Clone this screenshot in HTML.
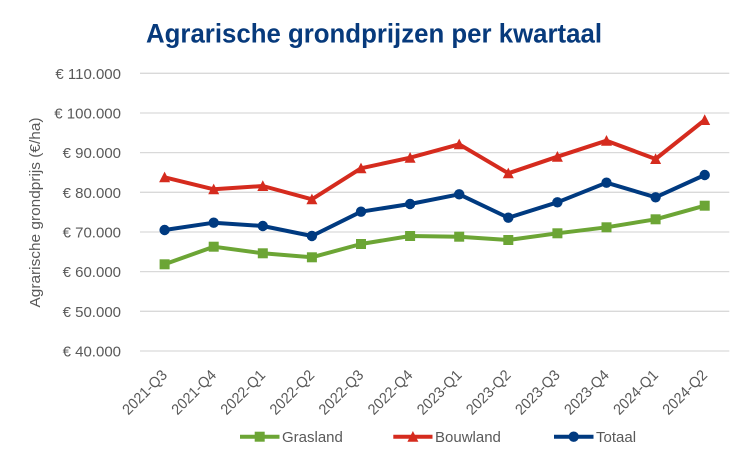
<!DOCTYPE html>
<html>
<head>
<meta charset="utf-8">
<style>
  html,body{margin:0;padding:0;background:#fff;}
  svg{display:block;}
  text{font-family:"Liberation Sans",sans-serif;}
</style>
</head>
<body>
<svg width="750" height="474" viewBox="0 0 750 474" xmlns="http://www.w3.org/2000/svg">
  <rect width="750" height="474" fill="#ffffff"/>
  <!-- Title -->
  <text x="146" y="42.3" font-size="27" font-weight="bold" fill="#073a7c" textLength="456" lengthAdjust="spacingAndGlyphs">Agrarische grondprijzen per kwartaal</text>

  <!-- Gridlines -->
  <g stroke="#d9d9d9" stroke-width="1.3">
    <line x1="140" y1="73.3" x2="729.3" y2="73.3"/>
    <line x1="140" y1="113" x2="729.3" y2="113"/>
    <line x1="140" y1="152.6" x2="729.3" y2="152.6"/>
    <line x1="140" y1="192.3" x2="729.3" y2="192.3"/>
    <line x1="140" y1="232" x2="729.3" y2="232"/>
    <line x1="140" y1="271.6" x2="729.3" y2="271.6"/>
    <line x1="140" y1="311.3" x2="729.3" y2="311.3"/>
    <line x1="140" y1="351" x2="729.3" y2="351"/>
  </g>

  <!-- Y tick labels -->
  <g font-size="15" fill="#595959" text-anchor="end">
    <text x="121" y="78.8">€ 110.000</text>
    <text x="121" y="118.5">€ 100.000</text>
    <text x="121" y="158.1">€ 90.000</text>
    <text x="121" y="197.8">€ 80.000</text>
    <text x="121" y="237.5">€ 70.000</text>
    <text x="121" y="277.1">€ 60.000</text>
    <text x="121" y="316.8">€ 50.000</text>
    <text x="121" y="356.5">€ 40.000</text>
  </g>

  <!-- Y axis title -->
  <text transform="translate(40,212.5) rotate(-90)" font-size="15" fill="#595959" text-anchor="middle" textLength="190" lengthAdjust="spacingAndGlyphs">Agrarische grondprijs (€/ha)</text>

  <!-- X tick labels -->
  <g font-size="15" fill="#595959" text-anchor="end">
    <text transform="translate(168,376) rotate(-45)" textLength="56" lengthAdjust="spacingAndGlyphs">2021-Q3</text>
    <text transform="translate(217.1,376) rotate(-45)" textLength="56" lengthAdjust="spacingAndGlyphs">2021-Q4</text>
    <text transform="translate(266.2,376) rotate(-45)" textLength="56" lengthAdjust="spacingAndGlyphs">2022-Q1</text>
    <text transform="translate(315.3,376) rotate(-45)" textLength="56" lengthAdjust="spacingAndGlyphs">2022-Q2</text>
    <text transform="translate(364.4,376) rotate(-45)" textLength="56" lengthAdjust="spacingAndGlyphs">2022-Q3</text>
    <text transform="translate(413.5,376) rotate(-45)" textLength="56" lengthAdjust="spacingAndGlyphs">2022-Q4</text>
    <text transform="translate(462.6,376) rotate(-45)" textLength="56" lengthAdjust="spacingAndGlyphs">2023-Q1</text>
    <text transform="translate(511.7,376) rotate(-45)" textLength="56" lengthAdjust="spacingAndGlyphs">2023-Q2</text>
    <text transform="translate(560.8,376) rotate(-45)" textLength="56" lengthAdjust="spacingAndGlyphs">2023-Q3</text>
    <text transform="translate(609.9,376) rotate(-45)" textLength="56" lengthAdjust="spacingAndGlyphs">2023-Q4</text>
    <text transform="translate(659,376) rotate(-45)" textLength="56" lengthAdjust="spacingAndGlyphs">2024-Q1</text>
    <text transform="translate(708.1,376) rotate(-45)" textLength="56" lengthAdjust="spacingAndGlyphs">2024-Q2</text>
  </g>

  <!-- Bouwland -->
  <polyline fill="none" stroke="#d52b1e" stroke-width="4" stroke-linejoin="round"
    points="164.6,177.3 213.7,189.3 262.8,186 311.9,199.3 361,168.3 410.1,157.7 459.2,144.3 508.3,173.3 557.4,156.7 606.5,140.7 655.6,159 704.7,120"/>
  <g fill="#d52b1e">
    <polygon points="164.6,171.6 159.1,182.3 170.1,182.3"/>
    <polygon points="213.7,183.6 208.2,194.3 219.2,194.3"/>
    <polygon points="262.8,180.3 257.3,191 268.3,191"/>
    <polygon points="311.9,193.6 306.4,204.3 317.4,204.3"/>
    <polygon points="361,162.6 355.5,173.3 366.5,173.3"/>
    <polygon points="410.1,152 404.6,162.7 415.6,162.7"/>
    <polygon points="459.2,138.6 453.7,149.3 464.7,149.3"/>
    <polygon points="508.3,167.6 502.8,178.3 513.8,178.3"/>
    <polygon points="557.4,151 551.9,161.7 562.9,161.7"/>
    <polygon points="606.5,135 601,145.7 612,145.7"/>
    <polygon points="655.6,153.3 650.1,164 661.1,164"/>
    <polygon points="704.7,114.3 699.2,125 710.2,125"/>
  </g>

  <!-- Totaal -->
  <polyline fill="none" stroke="#003a80" stroke-width="4" stroke-linejoin="round"
    points="164.6,230 213.7,222.7 262.8,226 311.9,236 361,211.7 410.1,204 459.2,194.3 508.3,217.7 557.4,202.3 606.5,182.7 655.6,197.3 704.7,175"/>
  <g fill="#003a80">
    <circle cx="164.6" cy="230" r="5.2"/>
    <circle cx="213.7" cy="222.7" r="5.2"/>
    <circle cx="262.8" cy="226" r="5.2"/>
    <circle cx="311.9" cy="236" r="5.2"/>
    <circle cx="361" cy="211.7" r="5.2"/>
    <circle cx="410.1" cy="204" r="5.2"/>
    <circle cx="459.2" cy="194.3" r="5.2"/>
    <circle cx="508.3" cy="217.7" r="5.2"/>
    <circle cx="557.4" cy="202.3" r="5.2"/>
    <circle cx="606.5" cy="182.7" r="5.2"/>
    <circle cx="655.6" cy="197.3" r="5.2"/>
    <circle cx="704.7" cy="175" r="5.2"/>
  </g>

  <!-- Grasland -->
  <polyline fill="none" stroke="#6ca535" stroke-width="4" stroke-linejoin="round"
    points="164.6,264.3 213.7,246.7 262.8,253.3 311.9,257.3 361,244 410.1,236 459.2,236.7 508.3,240 557.4,233.3 606.5,227.3 655.6,219.3 704.7,205.7"/>
  <g fill="#6ca535">
    <rect x="159.6" y="259.3" width="10" height="10"/>
    <rect x="208.7" y="241.7" width="10" height="10"/>
    <rect x="257.8" y="248.3" width="10" height="10"/>
    <rect x="306.9" y="252.3" width="10" height="10"/>
    <rect x="356" y="239" width="10" height="10"/>
    <rect x="405.1" y="231" width="10" height="10"/>
    <rect x="454.2" y="231.7" width="10" height="10"/>
    <rect x="503.3" y="235" width="10" height="10"/>
    <rect x="552.4" y="228.3" width="10" height="10"/>
    <rect x="601.5" y="222.3" width="10" height="10"/>
    <rect x="650.6" y="214.3" width="10" height="10"/>
    <rect x="699.7" y="200.7" width="10" height="10"/>
  </g>

  <!-- Legend -->
  <line x1="240" y1="436.7" x2="279.5" y2="436.7" stroke="#6ca535" stroke-width="4"/>
  <rect x="254.7" y="431.7" width="10" height="10" fill="#6ca535"/>
  <text x="282" y="442.2" font-size="15" fill="#595959">Grasland</text>

  <line x1="393.3" y1="436.7" x2="432.5" y2="436.7" stroke="#d52b1e" stroke-width="4"/>
  <polygon points="412.9,431 407.4,441.7 418.4,441.7" fill="#d52b1e"/>
  <text x="435" y="442.2" font-size="15" fill="#595959">Bouwland</text>

  <line x1="554" y1="436.7" x2="593.5" y2="436.7" stroke="#003a80" stroke-width="4"/>
  <circle cx="573.7" cy="436.7" r="5.2" fill="#003a80"/>
  <text x="596" y="442.2" font-size="15" fill="#595959">Totaal</text>
</svg>
</body>
</html>
